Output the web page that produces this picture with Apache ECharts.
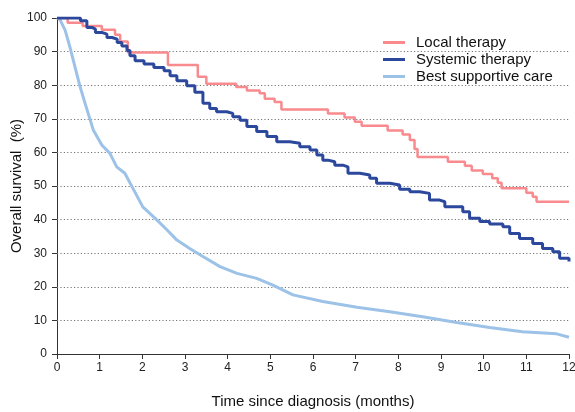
<!DOCTYPE html>
<html>
<head>
<meta charset="utf-8">
<script src="https://cdn.jsdelivr.net/npm/echarts@6/dist/echarts.min.js"></script>
<style>
  html, body { margin: 0; padding: 0; background: #fff; }
  #chart { width: 575px; height: 412px; }
</style>
</head>
<body>
<div id="chart"></div>
<script>
// Kaplan–Meier overall survival by treatment group (months, %)
const localTime = [0, 0.25, 0.6, 1.05, 1.36, 1.48, 1.66, 2.6, 3.3, 3.5, 4.2, 4.45, 4.75, 4.87, 5.1, 5.26, 6.35, 6.74, 6.98, 7.14, 7.75, 8.1, 8.27, 8.38, 8.45, 9.16, 9.56, 9.72, 9.98, 10.2, 10.33, 10.42, 11.0, 11.15, 11.24, 12];
const localSurv = [100, 98.6, 97.6, 96.5, 95, 93, 89.7, 86, 82.5, 80.4, 79.5, 78.4, 77.6, 76, 75, 72.8, 71.6, 70.4, 69.1, 67.9, 66.5, 65.3, 63.7, 61, 58.6, 57.2, 56, 54.6, 53.6, 52.3, 51, 49.3, 48, 46.8, 45.3, 45.3];

const systemicTime = [0, 0.55, 0.7, 0.82, 0.9, 1.05, 1.17, 1.29, 1.41, 1.52, 1.64, 1.71, 1.83, 2.04, 2.27, 2.51, 2.65, 2.81, 3.04, 3.23, 3.42, 3.58, 3.74, 3.98, 4.12, 4.29, 4.45, 4.68, 4.92, 5.15, 5.46, 5.69, 5.93, 6.09, 6.23, 6.35, 6.51, 6.7, 6.82, 7.1, 7.33, 7.49, 7.8, 8.03, 8.27, 8.5, 8.73, 8.97, 9.09, 9.28, 9.51, 9.67, 9.91, 10.14, 10.45, 10.61, 10.84, 11.15, 11.38, 11.62, 11.78, 12];
const systemicSurv = [100, 99.2, 97.2, 96.7, 95.7, 95.2, 94.2, 93.7, 92.7, 91.7, 90.3, 88.8, 87.3, 86.3, 85.3, 84.3, 82.8, 81.3, 79.8, 77.9, 74.6, 73.1, 72.1, 71.6, 70.6, 69.6, 67.7, 66.2, 64.7, 63.2, 62.7, 61.7, 60.7, 59.2, 57.7, 57.2, 56.2, 55.7, 53.8, 53.3, 52.3, 50.8, 50.3, 49, 48.3, 47.8, 45.8, 45.3, 43.8, 43.8, 42.3, 40.4, 39.4, 38.7, 37.9, 35.9, 34.4, 32.9, 31.4, 30.4, 28.5, 27.5];

const bscTime = [0, 0.07, 0.19, 0.3, 0.42, 0.54, 0.66, 0.85, 1.05, 1.24, 1.4, 1.59, 1.78, 2.01, 2.34, 2.58, 2.81, 3.11, 3.42, 3.82, 4.22, 4.68, 5.06, 5.53, 6.23, 7.03, 7.8, 8.57, 9.37, 10.14, 10.91, 11.71, 12];
const bscSurv = [100, 99.5, 96.4, 91.5, 85.5, 79.6, 74.5, 66.7, 62.2, 59.7, 55.7, 53.8, 49.3, 43.8, 39.9, 36.9, 33.9, 31.4, 29, 26, 24, 22.5, 20.5, 17.6, 15.6, 13.9, 12.6, 11.1, 9.4, 7.9, 6.6, 6.0, 5.0];

const xTicks = [0, 1, 2, 3, 4, 5, 6, 7, 8, 9, 10, 11, 12];
const yGridValues = [10, 20, 30, 40, 50, 60, 70, 80, 90];

const seriesNames = ['Local therapy', 'Systemic therapy', 'Best supportive care'];
const seriesColors = ['#F98A8E', '#2C489C', '#9CC2E8'];

const zip = (t, s) => t.map((v, i) => [v, s[i]]);

const chart = echarts.init(document.getElementById('chart'), null, { renderer: 'canvas' });

const fontFamily = 'Liberation Sans, Arial, sans-serif';

chart.setOption({
  animation: false,
  backgroundColor: '#fff',
  grid: { left: 57, right: 6, top: 18, bottom: 58, containLabel: false, outerBoundsMode: 'none' },
  legend: {
    left: 383, top: 35,
    padding: 0,
    orient: 'vertical',
    itemWidth: 22, itemHeight: 3,
    itemGap: 2,
    icon: 'rect',
    textStyle: { fontFamily, fontSize: 15, color: '#111', lineHeight: 15, padding: [0, 0, 0, 6] },
    data: seriesNames
  },
  xAxis: {
    type: 'value', min: 0, max: 12, interval: 1,
    name: 'Time since diagnosis (months)',
    nameLocation: 'middle', nameGap: 40, nameMoveOverlap: false,
    nameTextStyle: { fontFamily, fontSize: 15, color: '#111' },
    axisLine: { onZero: false, lineStyle: { color: '#333', width: 1 } },
    axisTick: { show: true, length: 5, lineStyle: { color: '#333' } },
    axisLabel: { fontFamily, fontSize: 12, color: '#222', margin: 8,
      formatter: v => xTicks.includes(v) ? String(v) : '' },
    splitLine: { show: false }
  },
  yAxis: {
    type: 'value', min: 0, max: 100, interval: 10,
    name: 'Overall survival  (%)',
    nameLocation: 'middle', nameGap: 33, nameRotate: 90, nameMoveOverlap: false,
    nameTextStyle: { fontFamily, fontSize: 15, color: '#111' },
    axisLine: { show: true, lineStyle: { color: '#333', width: 1 } },
    axisTick: { show: true, length: 5, lineStyle: { color: '#333' } },
    axisLabel: { fontFamily, fontSize: 12, color: '#222', margin: 10 },
    splitLine: { show: false }
  },
  series: [
    {
      name: seriesNames[0], type: 'line', step: 'end',
      data: zip(localTime, localSurv),
      showSymbol: false, symbol: 'none',
      lineStyle: { color: seriesColors[0], width: 2.5 },
      itemStyle: { color: seriesColors[0] },
      z: 3,
      markLine: {
        silent: true, symbol: 'none', label: { show: false },
        lineStyle: { color: '#777', type: [1.2, 2.2], width: 1 },
        data: yGridValues.map(v => ({ yAxis: v })),
        z: 1
      }
    },
    {
      name: seriesNames[1], type: 'line', step: 'end',
      data: zip(systemicTime, systemicSurv),
      showSymbol: false, symbol: 'none',
      lineStyle: { color: seriesColors[1], width: 3 },
      itemStyle: { color: seriesColors[1] },
      z: 4
    },
    {
      name: seriesNames[2], type: 'line',
      data: zip(bscTime, bscSurv),
      showSymbol: false, symbol: 'none',
      lineStyle: { color: seriesColors[2], width: 3 },
      itemStyle: { color: seriesColors[2] },
      z: 2
    }
  ]
});
</script>
</body>
</html>
